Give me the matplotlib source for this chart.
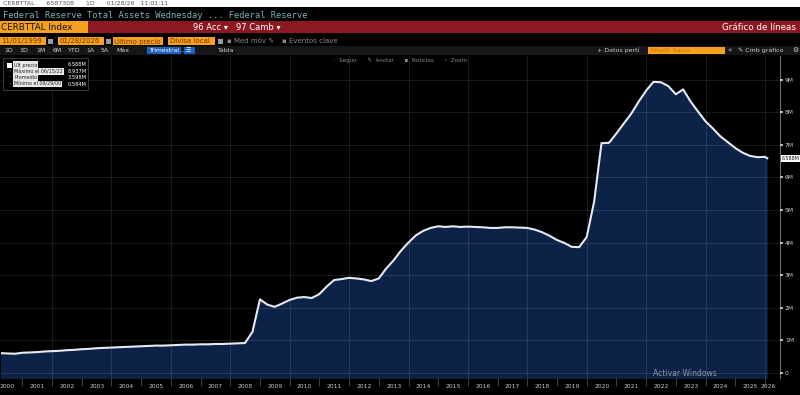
import numpy as np
import pandas as pd
import matplotlib
matplotlib.use('Agg')
import matplotlib.pyplot as plt
from matplotlib.patches import Rectangle
from matplotlib import transforms

# Fed total assets, quarterly (Bloomberg shows trillions as "M")
assets_1999_2008 = [
    0.60,                    # 1999Q4
    0.61, 0.60, 0.59, 0.62,  # 2000
    0.63, 0.64, 0.66, 0.67,  # 2001
    0.68, 0.70, 0.71, 0.73,  # 2002
    0.74, 0.76, 0.77, 0.78,  # 2003
    0.79, 0.80, 0.81, 0.82,  # 2004
    0.83, 0.84, 0.84, 0.85,  # 2005
    0.86, 0.87, 0.87, 0.88,  # 2006
    0.88, 0.89, 0.89, 0.90,  # 2007
    0.91, 0.92, 1.26, 2.26,  # 2008
]
assets_2009_2019 = [
    2.10, 2.03, 2.13, 2.24,  # 2009
    2.31, 2.33, 2.30, 2.42,  # 2010
    2.65, 2.85, 2.88, 2.92,  # 2011
    2.90, 2.87, 2.82, 2.90,  # 2012
    3.20, 3.45, 3.75, 4.00,  # 2013
    4.22, 4.36, 4.45, 4.50,  # 2014
    4.48, 4.50, 4.48, 4.49,  # 2015
    4.48, 4.47, 4.45, 4.45,  # 2016
    4.47, 4.47, 4.46, 4.45,  # 2017
    4.40, 4.32, 4.21, 4.08,  # 2018
    3.99, 3.87, 3.86, 4.17,  # 2019
]
assets_2020_2026 = [
    5.25, 7.05, 7.06, 7.35,  # 2020
    7.65, 7.95, 8.32, 8.66,  # 2021
    8.93, 8.92, 8.80, 8.55,  # 2022
    8.70, 8.33, 8.02, 7.72,  # 2023
    7.50, 7.26, 7.08, 6.90,  # 2024
    6.76, 6.66, 6.62, 6.63,  # 2025
    6.588,                   # 01/28/2026
]
dates = (pd.period_range('1999Q4', '2025Q4', freq='Q').end_time.tolist()
         + [pd.Timestamp('2026-01-28')])

year_labels = [str(y) for y in range(2000, 2027)]
y_ticks = list(range(10))
y_labels = ['0'] + ['%dM' % v for v in range(1, 10)]

legend_labels = ['Últ precio', 'Máximo el 06/15/22', 'Promedio', 'Mínimo el 09/29/00']
legend_values = ['6.588M', '8.937M', '3.598M', '0.584M']

W, H = 800, 395


def fx(x):
    return x / W


def fy(y):
    return 1 - y / H


def box(fig, x0, y0, x1, y1, color, **kw):
    fig.patches.append(Rectangle((fx(x0), fy(y1)), (x1 - x0) / W, (y1 - y0) / H,
                                 transform=fig.transFigure, facecolor=color, **kw))


def txt(fig, x, y, s, **kw):
    kw.setdefault('va', 'center')
    kw.setdefault('fontsize', 4.5)
    kw.setdefault('color', '#c8c8c8')
    fig.text(fx(x), fy(y), s, **kw)


def draw_header(fig):
    box(fig, 0, 0, 800, 7, 'white')
    txt(fig, 3, 3, 'CERBTTAL      6587308      1D      01/28/26   11:01:11', color='#555555', fontsize=4.5)
    txt(fig, 3, 16, 'Federal Reserve Total Assets Wednesday ... Federal Reserve',
        color='#7fb0b5', fontsize=6.3, family='DejaVu Sans Mono')
    # red bar
    box(fig, 0, 21.5, 800, 33, '#8c1822')
    box(fig, 0, 21.5, 88, 33, '#f5a01e')
    txt(fig, 1, 27.5, 'CERBTTAL Index', color='#111111', fontsize=6.3)
    txt(fig, 193, 27.5, '96 Acc ▾', color='white', fontsize=6)
    txt(fig, 236, 27.5, '97 Camb ▾', color='white', fontsize=6)
    txt(fig, 796, 27.5, 'Gráfico de líneas', color='white', fontsize=6.3, ha='right')
    # date / price row
    for x0, x1, s in [(0, 46, '11/01/1999'), (58, 104, '01/28/2026'),
                      (113, 163, 'Último precio'), (168, 215, 'Divisa local')]:
        box(fig, x0, 37, x1, 45, '#f5a01e')
        txt(fig, x0 + 1.5, 41, s, color='#7a3200', fontsize=5)
    for x in (48, 106, 218):
        box(fig, x, 38.5, x + 5, 43.5, '#9a9a9a')
    txt(fig, 227, 41, '▪ Med móv ✎', color='#8a8a8a', fontsize=5)
    txt(fig, 282, 41, '▪ Eventos clave', color='#8a8a8a', fontsize=5)
    # button row
    box(fig, 0, 46, 800, 55, '#161616')
    for x, s in [(4, '1D'), (20, '3D'), (36, '1M'), (53, '6M'), (68, 'YTD'),
                 (86, '1A'), (101, '5A'), (116, 'Máx'), (218, 'Tabla')]:
        txt(fig, x, 50.5, s, color='#cfcfcf', fontsize=4.5)
    box(fig, 147, 47, 181, 54, '#1f5fbf')
    txt(fig, 149, 50.5, 'Trimestral ...', color='white', fontsize=4.3)
    box(fig, 184, 47, 195, 54, '#1f5fbf')
    txt(fig, 186, 50.5, '☰', color='white', fontsize=4.3)
    txt(fig, 597, 50, '+ Datos pertí', color='#cfcfcf', fontsize=4.5)
    box(fig, 648, 46.5, 725, 53.5, '#f5a01e')
    txt(fig, 650, 50, 'Añadir datos', color='#d46a00', fontsize=4.5)
    txt(fig, 728, 50, '«', color='#cfcfcf', fontsize=5)
    txt(fig, 738, 50, '✎ Cmb gráfico', color='#cfcfcf', fontsize=4.5)
    txt(fig, 792, 50, '⚙', color='#cfcfcf', fontsize=5)


def draw_legend(fig):
    box(fig, 3, 58, 88, 90, 'black', edgecolor='#444444', linewidth=0.6, zorder=5)
    box(fig, 7, 62.5, 12, 67.5, 'white', zorder=6)
    rows = [65, 71.5, 77.5, 84]
    for y, lab, val in zip(rows, legend_labels, legend_values):
        fig.text(fx(14), fy(y), lab, va='center', fontsize=3.5, color='#222222', zorder=7,
                 bbox=dict(facecolor='#e8e8e8', edgecolor='none', pad=0.6))
        txt(fig, 68, y, val, color='white', fontsize=3.7, zorder=7)
    for y in rows[1:]:
        txt(fig, 8, y, '·', color='#aaaaaa', fontsize=5, zorder=7)


def plot_assets(ax, t, values):
    ax.set_facecolor('black')
    ax.fill_between(t, values, -1, color='#0c2246', lw=0, zorder=1)
    ax.plot(t, values, color='#e6e9f0', lw=1.5, zorder=4, solid_joinstyle='round')

    # pixel layout: 2002 at x=52, 29.71 px per year; 0 at y=373, 32.6 px per 1M
    ax.set_xlim(2002 + (1 - 52) / 29.71, 2002 + (780 - 52) / 29.71)
    ax.set_ylim((373 - 378) / 32.6, (373 - 56) / 32.6)

    ax.set_axisbelow(False)
    ax.yaxis.tick_right()
    ax.set_yticks(y_ticks)
    ax.set_yticklabels(y_labels)
    ax.tick_params(axis='y', colors='#cfcfcf', labelsize=4.3, length=2, width=1.3, pad=1.5)
    ax.grid(axis='y', color='white', alpha=0.1, lw=0.8)
    for yr in range(2002, 2027, 2):
        ax.axvline(yr, color='white', alpha=0.1, lw=0.8, zorder=2.5)

    label_pos = [y + 0.5 for y in range(2000, 2026)] + [2026.1]
    ax.set_xticks(label_pos)
    ax.set_xticklabels(year_labels)
    ax.set_xticks(range(2001, 2027), minor=True)
    ax.tick_params(axis='x', which='major', length=0, labelsize=4.3, colors='#c8c8c8', pad=4)
    ax.tick_params(axis='x', which='minor', length=6, width=0.5, color='#5a5a5a', direction='out')

    for side in ['top', 'left', 'bottom']:
        ax.spines[side].set_visible(False)
    ax.spines['right'].set_color('#8a8a8a')
    ax.spines['right'].set_linewidth(0.6)

    trans = transforms.blended_transform_factory(ax.transAxes, ax.transData)
    ax.text(1.002, values[-1], '%.3fM' % values[-1], transform=trans, va='center',
            fontsize=3.4, color='#111111', clip_on=False, zorder=6,
            bbox=dict(facecolor='white', edgecolor='none', pad=0.6))


def main():
    values = np.array(assets_1999_2008 + assets_2009_2019 + assets_2020_2026)
    t = np.array([d.year + (d.dayofyear - 1) / 365.25 for d in dates])

    fig = plt.figure(figsize=(W / 100, H / 100), dpi=100, facecolor='black')
    ax = fig.add_axes([fx(1), fy(378), (780 - 1) / W, (378 - 56) / H])
    plot_assets(ax, t, values)

    draw_header(fig)
    draw_legend(fig)
    txt(fig, 400, 60, '·  Seguir      ✎  Anotar      ▪  Noticias      ◦  Zoom',
        color='#8a8a8a', fontsize=4, ha='center')
    txt(fig, 653, 373, 'Activar Windows', color='#8e97a8', fontsize=5.5, zorder=8)

    fig.savefig('out.png', dpi=100, facecolor='black')


main()
